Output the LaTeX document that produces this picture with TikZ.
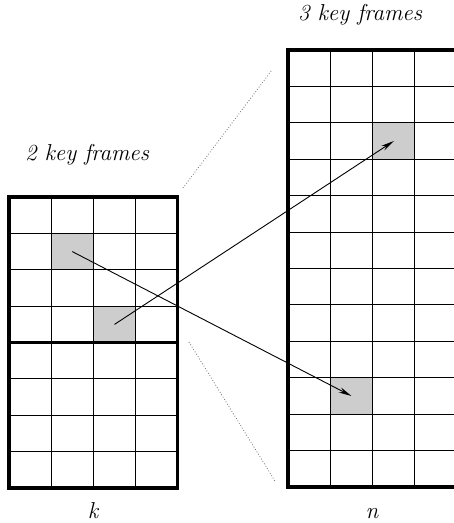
\documentclass[tikz,border=0pt]{standalone}
\usetikzlibrary{arrows.meta,positioning}
\definecolor{CellGray} {RGB}{205,205,205}
\definecolor{DotGray}  {RGB}{110,110,110}
\tikzset{
  %% 网格细线 / 外框粗线
  gridline/.style={line width=0.9pt,color=black},
  framebox/.style={line width=3.2pt,color=black},
  %% 关键帧格子
  keycell/.style={rectangle,draw=black,line width=0.9pt,fill=CellGray,
                  minimum width=42.2pt,minimum height=36.4pt,inner sep=0pt},
  %% 映射虚线、移动箭头
  mapline/.style={dotted,line width=0.8pt,color=DotGray},
  movearr/.style={-{Stealth[length=13pt,width=5.5pt]},line width=0.9pt},
  captxt/.style={font=\itshape\fontsize{23}{27}\selectfont,inner sep=0pt},
}

\begin{document}
\begin{tikzpicture}[x=1pt,y=-1pt]
  \useasboundingbox (0,0) rectangle (454,523);
  \clip (0,0) rectangle (454,523);

  %% ── 关键帧格子（先填色，再画网格线）──────────────────────
  \node[keycell] (kA) at (72.3,251.6) {};
  \node[keycell] (kB) at (114.5,324.4) {};
  \node[keycell] (nA) at (393.8,141.0) {};
  \node[keycell] (nB) at (351.5,396.0) {};

  %% ── 左块：4 x 8，k ──────────────────────────────────────
  \foreach \i in {1,2,3}
    \draw[gridline] (9+42.1*\i,197) -- (9+42.1*\i,488);
  \foreach \j in {1,2,3,5,6,7}
    \draw[gridline] (9,197+36.375*\j) -- (177.4,197+36.375*\j);
  \draw[framebox] (9,342.5) -- (177.4,342.5);
  \draw[framebox] (9,197) rectangle (177.4,488);

  %% ── 右块：4 x 12，n（右缘出界）─────────────────────────
  \foreach \i in {1,2,3}
    \draw[gridline] (288+42.3*\i,50) -- (288+42.3*\i,487);
  \foreach \j in {1,...,11}
    \draw[gridline] (288,50+36.42*\j) -- (460,50+36.42*\j);
  \draw[framebox] (288,50) rectangle (457.2,487);

  %% ── 映射虚线 ────────────────────────────────────────────
  \coordinate (dTa) at (183,188);
  \coordinate (dTb) at (272,70);
  \coordinate (dBa) at (189,342);
  \coordinate (dBb) at (275,481);
  \draw[mapline] (dTa) -- (dTb);
  \draw[mapline] (dBa) -- (dBb);

  %% ── 移动箭头 ────────────────────────────────────────────
  \draw[movearr] (kA.center) -- (nB.center);
  \draw[movearr] (kB.center) -- (nA.center);

  %% ── 标注 ────────────────────────────────────────────────
  \node[captxt] (capL) at (87,155) {2 key frames};
  \node[captxt] (capR) at (360,15) {3 key frames};
  \node[captxt,anchor=base] (capK) at (93,518) {k};
  \node[captxt,anchor=base] (capN) at (372,518) {n};
\end{tikzpicture}
\end{document}
